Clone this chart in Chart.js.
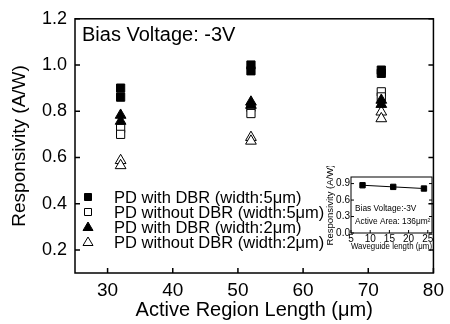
<!DOCTYPE html>
<html>
<head>
<meta charset="utf-8">
<script src="https://cdn.jsdelivr.net/npm/chart.js@4.4.0/dist/chart.umd.min.js"></script>
<style>
  html, body { margin: 0; padding: 0; background: #fff; }
  #wrap { position: relative; width: 450px; height: 324px; }
  #grafica { position: absolute; left: 0; top: 0; }
  #inset { position: absolute; left: 318px; top: 166px; }
</style>
</head>
<body>
<div id="wrap">
  <canvas id="grafica" width="450" height="324"></canvas>
  <canvas id="inset" width="132" height="90"></canvas>
</div>
<script>
const FUENTE = "'Liberation Sans', Arial, sans-serif";

// longitud de la region activa (dos dispositivos por longitud)
const longitudes = [32, 32, 52, 52, 72, 72];
const conDbr5 = [0.90, 0.861, 1.00, 0.975, 0.978, 0.964];
const sinDbr5 = [0.726, 0.70, 0.817, 0.79, 0.884, 0.862];
const conDbr2 = [0.783, 0.757, 0.84, 0.826, 0.848, 0.83];
const sinDbr2 = [0.587, 0.565, 0.687, 0.671, 0.797, 0.768];

const etiquetas = [
  "PD with DBR (width:5\u03bcm)",
  "PD without DBR (width:5\u03bcm)",
  "PD with DBR (width:2\u03bcm)",
  "PD without DBR (width:2\u03bcm)"
];

const ticksX = [30, 40, 50, 60, 70, 80];
const ticksY = [0.2, 0.4, 0.6, 0.8, 1.0, 1.2];

// grafica pequeña: longitud de guia de onda
const guiaLong = [8, 16, 24];
const respGuia = [0.87, 0.84, 0.81];
const ticksGuiaX = [5, 10, 15, 20, 25];
const ticksGuiaY = [0.0, 0.3, 0.6, 0.9];

function serie(label, valores, estilo, relleno, orden) {
  return {
    label: label,
    data: longitudes.map((x, i) => ({ x: x, y: valores[i] })),
    pointStyle: estilo,
    pointRadius: estilo === "rect" ? 5.8 : 6.2,
    pointBackgroundColor: relleno ? "#000" : "#fff",
    pointBorderColor: "#000",
    pointBorderWidth: 1,
    showLine: false,
    order: orden
  };
}

// marco, ticks hacia adentro y leyenda dibujada dentro del area
const marcoPrincipal = {
  id: "marcoPrincipal",
  afterDraw(chart) {
    const ctx = chart.ctx;
    const a = chart.chartArea;
    const sx = chart.scales.x, sy = chart.scales.y;
    ctx.save();
    ctx.strokeStyle = "#000";
    ctx.lineWidth = 1.5;
    ctx.strokeRect(a.left, a.top, a.right - a.left, a.bottom - a.top);
    ctx.beginPath();
    ticksX.forEach(v => {
      const px = sx.getPixelForValue(v);
      ctx.moveTo(px, a.bottom);
      ctx.lineTo(px, a.bottom - 5);
    });
    ticksY.forEach(v => {
      const py = sy.getPixelForValue(v);
      ctx.moveTo(a.left, py);
      ctx.lineTo(a.left + 5, py);
      ctx.moveTo(a.right, py);
      ctx.lineTo(a.right - 5, py);
    });
    ctx.stroke();

    ctx.fillStyle = "#000";
    ctx.font = "20px " + FUENTE;
    ctx.textBaseline = "middle";
    ctx.textAlign = "left";
    ctx.fillText("Bias Voltage: -3V", a.left + 7, a.top + 17);

    // leyenda
    const filas = [197, 212, 227, 242];
    const mx = 88;
    ctx.font = "16.5px " + FUENTE;
    ctx.lineWidth = 1;
    filas.forEach((fy, i) => {
      const relleno = i === 0 || i === 2;
      ctx.beginPath();
      if (i < 2) {
        ctx.rect(mx - 3.5, fy - 3.5, 7, 7);
      } else {
        ctx.moveTo(mx, fy - 5);
        ctx.lineTo(mx + 5, fy + 3.5);
        ctx.lineTo(mx - 5, fy + 3.5);
        ctx.closePath();
      }
      ctx.fillStyle = relleno ? "#000" : "#fff";
      ctx.fill();
      ctx.stroke();
      ctx.fillStyle = "#000";
      ctx.fillText(etiquetas[i], 114, fy + 1);
    });
    ctx.restore();
  }
};

const marcoGuia = {
  id: "marcoGuia",
  afterDraw(chart) {
    const ctx = chart.ctx;
    const a = chart.chartArea;
    const sx = chart.scales.x, sy = chart.scales.y;
    ctx.save();
    ctx.strokeStyle = "#000";
    ctx.lineWidth = 1;
    ctx.strokeRect(a.left, a.top, a.right - a.left, a.bottom - a.top);
    ctx.beginPath();
    ticksGuiaX.forEach(v => {
      const px = sx.getPixelForValue(v);
      ctx.moveTo(px, a.bottom);
      ctx.lineTo(px, a.bottom - 3);
    });
    ticksGuiaY.forEach(v => {
      const py = sy.getPixelForValue(v);
      ctx.moveTo(a.left, py);
      ctx.lineTo(a.left + 3, py);
      ctx.moveTo(a.right, py);
      ctx.lineTo(a.right - 3, py);
    });
    ctx.stroke();
    ctx.fillStyle = "#000";
    ctx.font = "8.3px " + FUENTE;
    ctx.textBaseline = "middle";
    ctx.fillText("Bias Voltage:-3V", a.left + 4, a.top + 31.5);
    ctx.fillText("Active Area: 136\u03bcm\u00b2", a.left + 4, a.top + 45);
    ctx.restore();
  }
};

function ejesFijos(ancho, alto) {
  return {
    x: function (scale) { scale.height = alto; },
    y: function (scale) { scale.width = ancho; }
  };
}

const fijoPrincipal = ejesFijos(75, 51);

new Chart(document.getElementById("grafica"), {
  type: "scatter",
  data: {
    datasets: [
      serie(etiquetas[0], conDbr5, "rect", true, 0),
      serie(etiquetas[1], sinDbr5, "rect", false, 2),
      serie(etiquetas[2], conDbr2, "triangle", true, 1),
      serie(etiquetas[3], sinDbr2, "triangle", false, 3)
    ]
  },
  options: {
    responsive: false,
    animation: false,
    layout: { padding: { top: 18, right: 9, left: 0, bottom: 0 } },
    plugins: { legend: { display: false }, tooltip: { enabled: false } },
    scales: {
      x: {
        type: "linear",
        min: 25,
        max: 80,
        afterBuildTicks: s => { s.ticks = ticksX.map(v => ({ value: v })); },
        afterFit: fijoPrincipal.x,
        grid: { display: false, drawTicks: false },
        border: { display: false },
        ticks: { color: "#000", font: { family: FUENTE, size: 19 }, padding: 6 },
        title: {
          display: true,
          text: "Active Region Length (\u03bcm)",
          color: "#000",
          font: { family: FUENTE, size: 20 },
          padding: { top: 0, bottom: 2 }
        }
      },
      y: {
        min: 0.1,
        max: 1.2,
        afterBuildTicks: s => { s.ticks = ticksY.map(v => ({ value: v })); },
        afterFit: fijoPrincipal.y,
        grid: { display: false, drawTicks: false },
        border: { display: false },
        ticks: {
          color: "#000",
          font: { family: FUENTE, size: 18 },
          padding: 8,
          callback: v => v.toFixed(1)
        },
        title: {
          display: true,
          text: "Responsivity (A/W)",
          color: "#000",
          font: { family: FUENTE, size: 19 },
          padding: { top: 8, bottom: 0 }
        }
      }
    }
  },
  plugins: [marcoPrincipal]
});

const fijoGuia = ejesFijos(33, 23);

new Chart(document.getElementById("inset"), {
  type: "line",
  data: {
    datasets: [{
      data: guiaLong.map((x, i) => ({ x: x, y: respGuia[i] })),
      borderColor: "#000",
      borderWidth: 1,
      pointStyle: "rect",
      pointRadius: 3.8,
      pointBackgroundColor: "#000",
      pointBorderColor: "#000"
    }]
  },
  options: {
    responsive: false,
    animation: false,
    layout: { padding: { top: 11, right: 18, left: 0, bottom: 0 } },
    plugins: { legend: { display: false }, tooltip: { enabled: false } },
    scales: {
      x: {
        type: "linear",
        min: 5,
        max: 26.1,
        afterBuildTicks: s => { s.ticks = ticksGuiaX.map(v => ({ value: v })); },
        afterFit: fijoGuia.x,
        grid: { display: false, drawTicks: false },
        border: { display: false },
        ticks: { color: "#000", font: { family: FUENTE, size: 10 }, padding: 0 },
        title: {
          display: true,
          text: "Waveguide length (\u03bcm)",
          color: "#000",
          font: { family: FUENTE, size: 9.7 },
          padding: { top: 0, bottom: 4 }
        }
      },
      y: {
        min: 0,
        max: 1.02,
        afterBuildTicks: s => { s.ticks = ticksGuiaY.map(v => ({ value: v })); },
        afterFit: fijoGuia.y,
        grid: { display: false, drawTicks: false },
        border: { display: false },
        ticks: {
          color: "#000",
          font: { family: FUENTE, size: 10 },
          padding: 1,
          callback: v => v.toFixed(1)
        },
        title: {
          display: true,
          text: "Responsivity (A/W)",
          color: "#000",
          font: { family: FUENTE, size: 9.5 },
          padding: { top: 7, bottom: 0 }
        }
      }
    }
  },
  plugins: [marcoGuia]
});
</script>
</body>
</html>
